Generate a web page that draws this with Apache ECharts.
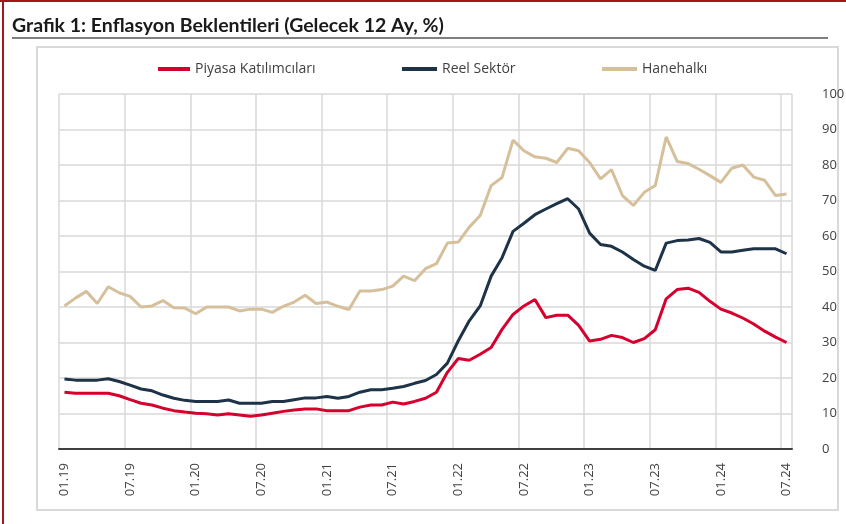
<!DOCTYPE html>
<html>
<head>
<meta charset="utf-8">
<script src="https://cdn.jsdelivr.net/npm/echarts@6/dist/echarts.min.js"></script>
<style>
html, body { margin: 0; padding: 0; background: #fff; }
#chart { width: 846px; height: 524px; }
</style>
</head>
<body>
<div id="chart"></div>
<script>
// aylar: 01.19 - 07.24
var years = ["19", "20", "21", "22", "23", "24"];
var months = ["01", "02", "03", "04", "05", "06", "07", "08", "09", "10", "11", "12"];
var categories = [];
for (var y = 0; y < years.length; y++) {
    for (var m = 0; m < months.length; m++) {
        categories.push(months[m] + "." + years[y]);
        if (years[y] === "24" && months[m] === "07") break;
    }
}

var piyasa = [16, 15.7, 15.7, 15.7, 15.7, 15, 13.9, 12.9, 12.4, 11.5, 10.8, 10.4,
    10.1, 9.9, 9.6, 9.9, 9.6, 9.2, 9.6, 10.1, 10.6, 11, 11.3, 11.3,
    10.8, 10.8, 10.8, 11.8, 12.4, 12.4, 13.2, 12.7, 13.4, 14.3, 16, 21.6,
    25.5, 25, 26.7, 28.6, 33.7, 37.9, 40.3, 42.1, 37, 37.7, 37.7, 34.8,
    30.4, 30.9, 32, 31.4, 30, 31.1, 33.6, 42.3, 44.9, 45.3, 44.1, 41.6,
    39.4, 38.3, 36.9, 35.2, 33.2, 31.5, 30];

var reelSektor = [19.7, 19.4, 19.4, 19.4, 19.8, 19, 18, 16.9, 16.4, 15.2, 14.3, 13.7,
    13.4, 13.4, 13.4, 13.8, 12.9, 12.9, 12.9, 13.4, 13.4, 13.9, 14.4, 14.4,
    14.8, 14.3, 14.8, 16, 16.7, 16.7, 17.1, 17.6, 18.5, 19.3, 21, 24.2,
    30.5, 36.1, 40.3, 48.7, 53.9, 61.3, 63.6, 66, 67.6, 69.1, 70.5, 67.6,
    60.8, 57.6, 57.1, 55.5, 53.4, 51.5, 50.3, 58, 58.7, 58.9, 59.3, 58.2,
    55.5, 55.5, 56, 56.4, 56.4, 56.4, 55];

var hanehalki = [40.3, 42.5, 44.4, 41, 45.7, 44, 43, 40, 40.3, 41.8, 39.8, 39.7,
    38.1, 40, 40, 40, 38.9, 39.4, 39.4, 38.5, 40.2, 41.4, 43.3, 41,
    41.4, 40.2, 39.3, 44.5, 44.5, 44.9, 45.9, 48.7, 47.4, 50.8, 52.2, 58,
    58.3, 62.5, 65.8, 74.2, 76.5, 87, 84, 82.3, 81.9, 80.7, 84.7, 84,
    80.7, 76.1, 78.7, 71.4, 68.6, 72.3, 74.2, 87.9, 81, 80.4, 78.8, 77,
    75.1, 79.1, 80, 76.6, 75.7, 71.4, 71.8];

var chart = echarts.init(document.getElementById("chart"));

var legendText = { fontSize: 14, color: "#404040", fontFamily: "Open Sans" };
var axisText = { fontSize: 13, color: "#404040", fontFamily: "Open Sans" };

var option = {
    backgroundColor: "#ffffff",
    animation: false,
    title: {
        text: "Grafik 1: Enflasyon Beklentileri (Gelecek 12 Ay, %)",
        left: 12,
        top: 16,
        padding: 0,
        textStyle: { fontSize: 19.5, fontWeight: "bold", color: "#1a1a1a", fontFamily: "Lato" }
    },
    graphic: [
        { type: "line", shape: { x1: 0, y1: 1, x2: 846, y2: 1 }, style: { stroke: "#a3161b", lineWidth: 2 } },
        { type: "line", shape: { x1: 3, y1: 0, x2: 3, y2: 524 }, style: { stroke: "#a3161b", lineWidth: 2 } },
        { type: "line", shape: { x1: 12, y1: 38, x2: 828, y2: 38 }, style: { stroke: "#7f7f7f", lineWidth: 2 } },
        { type: "rect", shape: { x: 37, y: 47, width: 801, height: 463 }, style: { fill: null, stroke: "#d9d9d9", lineWidth: 2 } }
    ],
    legend: [
        { data: ["Piyasa Katılımcıları"], left: 158, top: 62, padding: 0, icon: "rect", itemWidth: 32, itemHeight: 4, textStyle: legendText },
        { data: ["Reel Sektör"], left: 402, top: 62, padding: 0, icon: "rect", itemWidth: 35, itemHeight: 4, textStyle: legendText },
        { data: ["Hanehalkı"], left: 602, top: 62, padding: 0, icon: "rect", itemWidth: 35, itemHeight: 4, textStyle: legendText }
    ],
    grid: { left: 59, right: 54, top: 94, bottom: 75, containLabel: false, outerBoundsMode: "none" },
    xAxis: {
        type: "category",
        data: categories,
        boundaryGap: true,
        axisLine: { lineStyle: { color: "#404040", width: 2 } },
        axisTick: { show: false },
        axisLabel: Object.assign({ interval: 5, rotate: 90, margin: 14 }, axisText),
        splitLine: { show: true, interval: 5, lineStyle: { color: "#d9d9d9", width: 1.5 } }
    },
    yAxis: {
        type: "value",
        position: "right",
        min: 0,
        max: 100,
        interval: 10,
        axisLine: { show: false },
        axisTick: { show: false },
        axisLabel: Object.assign({ margin: 16, align: "left", padding: [0, 0, 0, 14] }, axisText),
        splitLine: { lineStyle: { color: "#d9d9d9", width: 1.5 } }
    },
    series: [
        { name: "Piyasa Katılımcıları", type: "line", data: piyasa, symbol: "none", lineStyle: { width: 3, color: "#d6002f" }, itemStyle: { color: "#d6002f" } },
        { name: "Reel Sektör", type: "line", data: reelSektor, symbol: "none", lineStyle: { width: 3, color: "#1e3248" }, itemStyle: { color: "#1e3248" } },
        { name: "Hanehalkı", type: "line", data: hanehalki, symbol: "none", lineStyle: { width: 3, color: "#d5c09b" }, itemStyle: { color: "#d5c09b" } }
    ]
};
option && chart.setOption(option);
</script>
</body>
</html>
